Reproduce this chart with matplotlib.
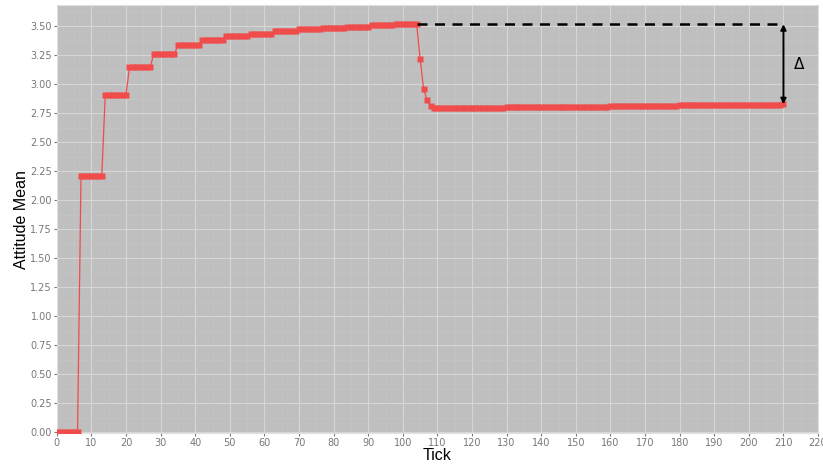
import numpy as np
import matplotlib.pyplot as plt
from matplotlib.ticker import MultipleLocator

# step levels held for 7 ticks each (ticks 0..104)
step_levels = [0.0, 2.21, 2.905, 3.143, 3.26, 3.333, 3.38, 3.41, 3.43,
               3.455, 3.47, 3.485, 3.495, 3.505, 3.515]
step_len = 7
# drop after the intervention (ticks 105..109)
drop_vals = [3.22, 2.96, 2.86, 2.81, 2.795]
# slow recovery (ticks 110..210), read in blocks
tail_levels = [2.79, 2.795, 2.80, 2.803, 2.806, 2.81, 2.813, 2.816, 2.82, 2.823, 2.826]
tail_counts = [10, 10, 10, 10, 10, 10, 10, 10, 10, 10, 1]

y = np.concatenate([np.repeat(step_levels, step_len), drop_vals,
                    np.repeat(tail_levels, tail_counts)])
x = np.arange(len(y))

red = '#f04c4c'

fig = plt.figure(figsize=(8.23, 4.65), dpi=100)
ax = fig.add_axes([0.069, 0.068, 0.925, 0.921])
ax.set_facecolor('#bfbfbf')

ax.plot(x, y, color=red, lw=0.9, zorder=3)
ax.plot(x, y, ls='none', marker='s', ms=4.2, mec='none', mfc=red, zorder=3)

# reference line and delta arrow
top = step_levels[-1]
end_x = x[-1]
ax.plot([x[len(step_levels) * step_len - 1], end_x], [top, top], '--', color='black', lw=1.8,
        dashes=(4, 3), zorder=4)
ax.annotate('', xy=(end_x, y[-1]), xytext=(end_x, top),
            arrowprops=dict(arrowstyle='<|-|>', color='black', lw=1.4,
                            mutation_scale=8, shrinkA=0, shrinkB=0), zorder=4)
ax.text(end_x + 3, (top + y[-1]) / 2, 'Δ', fontsize=11, va='center', ha='left')

ax.set_xlim(0, 220)
ax.set_ylim(-0.01, 3.68)
ax.xaxis.set_major_locator(MultipleLocator(10))
ax.yaxis.set_major_locator(MultipleLocator(0.25))
ax.xaxis.set_minor_locator(MultipleLocator(5))
ax.yaxis.set_minor_locator(MultipleLocator(0.125))
ax.yaxis.set_major_formatter(plt.FormatStrFormatter('%.2f'))
ax.grid(which='major', color='#d6d6d6', lw=0.8)
ax.grid(which='minor', color='#c6c6c6', lw=0.5)
ax.set_axisbelow(True)

ax.tick_params(labelsize=7, colors='#777777', length=2, pad=1.5)
ax.tick_params(which='minor', length=0)
for s in ax.spines.values():
    s.set_color('#e0e0e0')

ax.set_xlabel('Tick', fontsize=11.5, family='Liberation Sans', labelpad=0)
ax.set_ylabel('Attitude Mean', fontsize=11.5, family='Liberation Sans', labelpad=1)

fig.savefig('out.png', dpi=100)
